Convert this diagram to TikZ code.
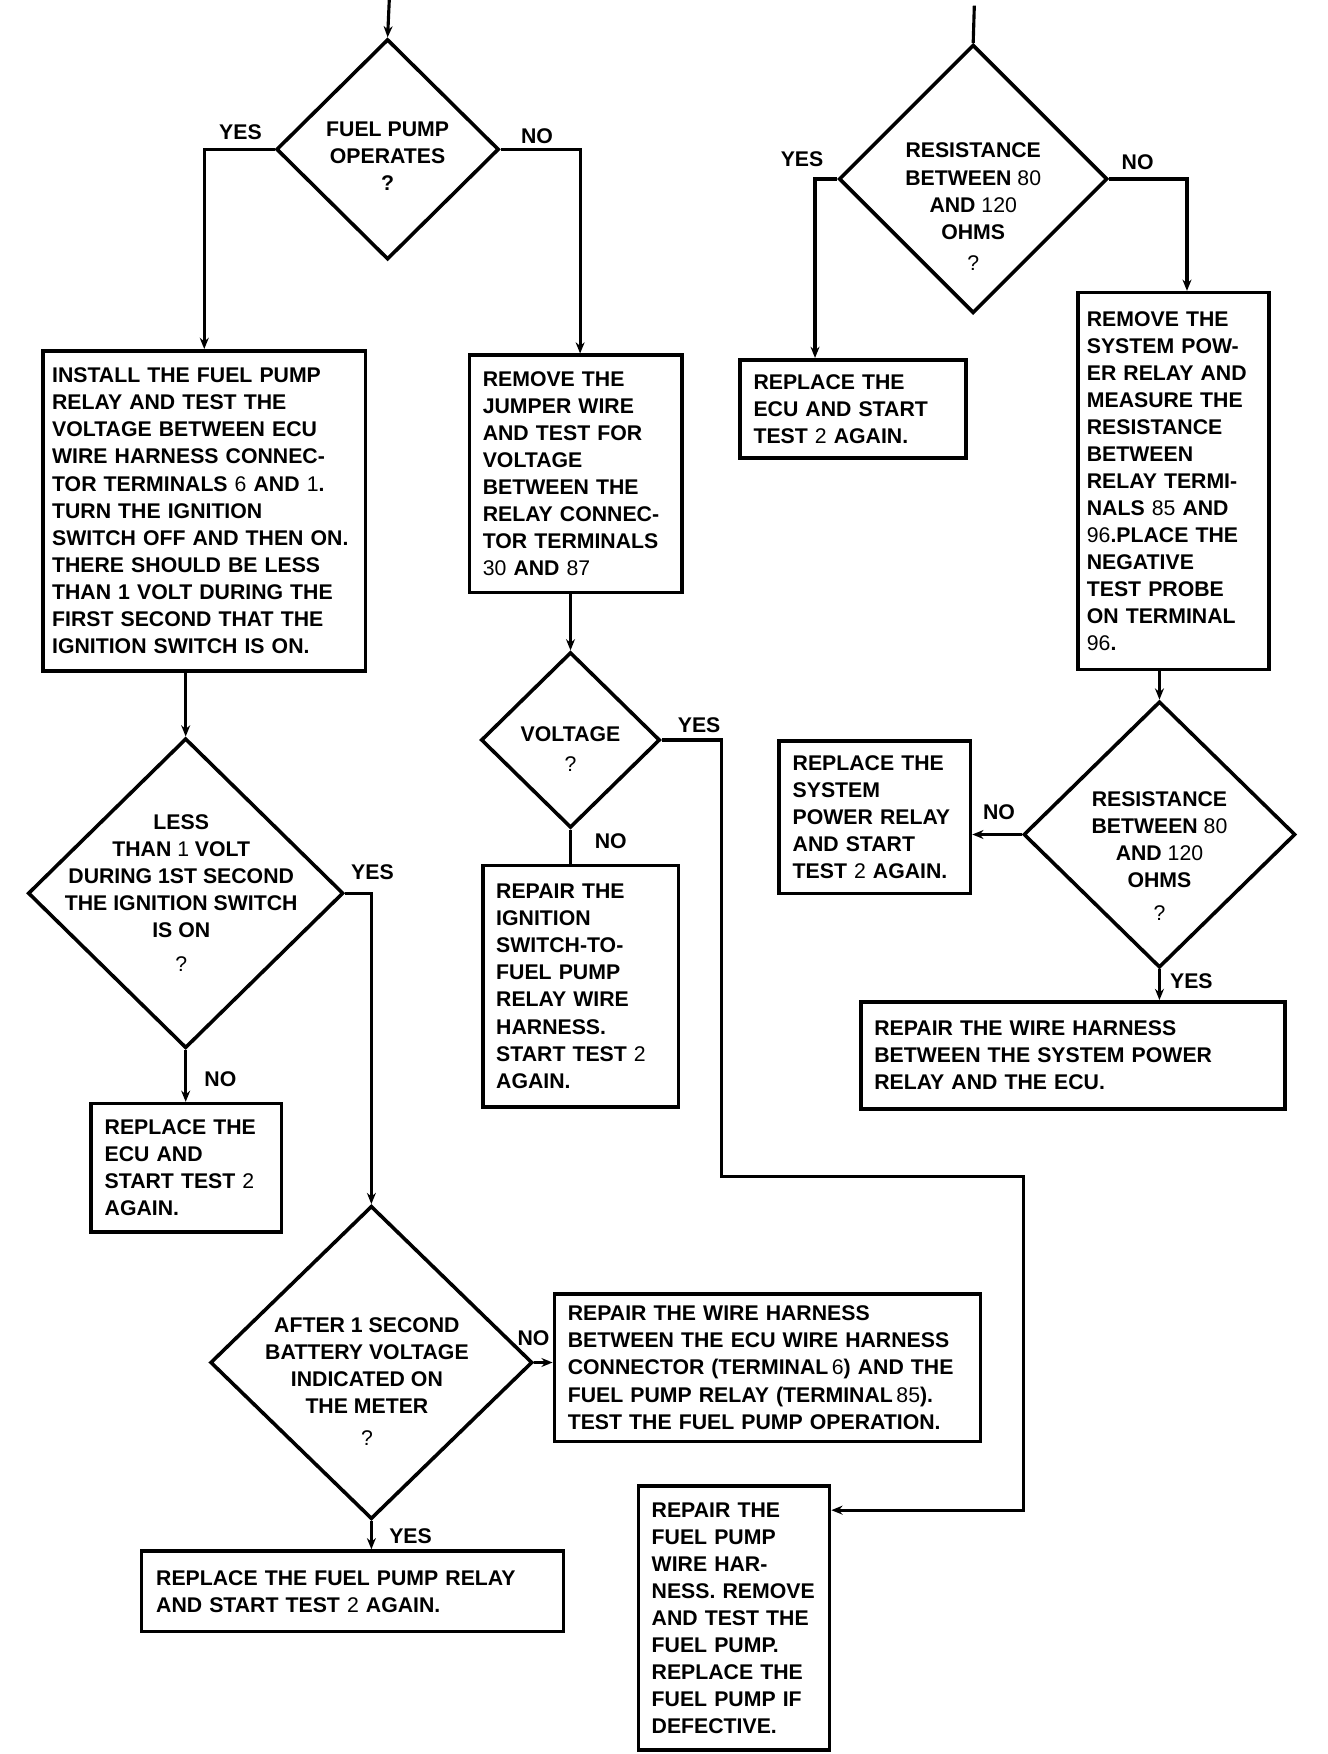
\documentclass[tikz,border=0pt]{standalone}
\usepackage{fontspec}
\setmainfont{Liberation Sans}
\usepackage{tikz}
\usetikzlibrary{arrows.meta,shapes.geometric}

\newcommand{\lite}[1]{{\mdseries #1}}

\begin{document}
\begin{tikzpicture}[x=1pt,y=-1pt,
    chartfont/.style={font=\fontsize{19}{24.2}\selectfont\bfseries},
    box/.style={draw, line width=3.2pt, anchor=north west, align=left,
      inner xsep=12pt, inner ysep=8pt, chartfont},
    decision/.style={draw, diamond, line width=3.2pt, inner sep=0pt},
    dtext/.style={align=center, inner sep=0pt, chartfont},
    lab/.style={inner sep=0pt, chartfont},
    arr/.style={line width=2.8pt, -{Stealth[length=10pt,width=8pt]}},
    flow/.style={line width=2.8pt}]

    \useasboundingbox (0,0) rectangle (1187,1568);

    % decisions
    \node[decision, minimum width=199pt, minimum height=197pt] (d1) at (346.5,133.5) {};
    \node[dtext, yshift=-6pt] (d1t) at (d1) {FUEL PUMP\\OPERATES\\?};

    \node[decision, minimum width=282pt, minimum height=277pt] (d2) at (166,798.5) {};
    \node[dtext, xshift=-4pt] (d2t) at (d2)
      {LESS\\THAN \lite{1} VOLT\\DURING 1ST SECOND\\THE IGNITION SWITCH\\IS ON\\[6pt]\lite{?}};

    \node[decision, minimum width=160pt, minimum height=157pt] (d3) at (510,661.5) {};
    \node[dtext, yshift=-8pt] (d3t) at (d3) {VOLTAGE\\[2pt]\lite{?}};

    \node[decision, minimum width=288pt, minimum height=280pt] (d4) at (332,1218) {};
    \node[dtext, yshift=-17pt, xshift=-4pt] (d4t) at (d4)
      {AFTER 1 SECOND\\BATTERY VOLTAGE\\INDICATED ON\\THE METER\\[4pt]\lite{?}};

    \node[decision, minimum width=240pt, minimum height=240pt] (d5) at (870,160) {};
    \node[dtext, yshift=-25pt] (d5t) at (d5)
      {RESISTANCE\\BETWEEN \lite{80}\\AND \lite{120}\\OHMS\\[4pt]\lite{?}};

    \node[decision, minimum width=243pt, minimum height=238pt] (d6) at (1036.5,746) {};
    \node[dtext, yshift=-19pt] (d6t) at (d6)
      {RESISTANCE\\BETWEEN \lite{80}\\AND \lite{120}\\OHMS\\[5pt]\lite{?}};

    % action boxes
    \node[box, text width=272pt, minimum height=286pt, inner xsep=8pt] (b1) at (37,312)
      {INSTALL THE FUEL PUMP\\RELAY AND TEST THE\\VOLTAGE BETWEEN ECU\\WIRE HARNESS CONNEC-\\TOR TERMINALS \lite{6} AND \lite{1}.\\TURN THE IGNITION\\SWITCH OFF AND THEN ON.\\THERE SHOULD BE LESS\\THAN 1 VOLT DURING THE\\FIRST SECOND THAT THE\\IGNITION SWITCH IS ON.};

    \node[box, text width=166pt, minimum height=212pt] (b2) at (418,316)
      {REMOVE THE\\JUMPER WIRE\\AND TEST FOR\\VOLTAGE\\BETWEEN THE\\RELAY CONNEC-\\TOR TERMINALS\\\lite{30} AND \lite{87}};

    \node[box, text width=146pt, minimum height=115pt] (b3) at (80,985)
      {REPLACE THE\\ECU AND\\START TEST \lite{2}\\AGAIN.};

    \node[box, text width=351pt, minimum height=72pt, inner xsep=13pt] (b4) at (125,1385)
      {REPLACE THE FUEL PUMP RELAY\\AND START TEST \lite{2} AGAIN.};

    \node[box, text width=151pt, minimum height=216pt] (b5) at (430,772)
      {REPAIR THE\\IGNITION\\SWITCH-TO-\\FUEL PUMP\\RELAY WIRE\\HARNESS.\\START TEST \lite{2}\\AGAIN.};

    \node[box, text width=357pt, minimum height=132pt] (b6) at (494,1155)
      {REPAIR THE WIRE HARNESS\\BETWEEN THE ECU WIRE HARNESS\\CONNECTOR (TERMINAL\,\lite{6}) AND THE\\FUEL PUMP RELAY (TERMINAL\,\lite{85}).\\TEST THE FUEL PUMP OPERATION.};

    \node[box, text width=147pt, minimum height=236pt] (b7) at (569,1327)
      {REPAIR THE\\FUEL PUMP\\WIRE HAR-\\NESS. REMOVE\\AND TEST THE\\FUEL PUMP.\\REPLACE THE\\FUEL PUMP IF\\DEFECTIVE.};

    \node[box, text width=178pt, minimum height=88pt] (b8) at (660,320)
      {REPLACE THE\\ECU AND START\\TEST \lite{2} AGAIN.};

    \node[box, text width=155pt, minimum height=337pt, inner xsep=8pt] (b9) at (962,260)
      {REMOVE THE\\SYSTEM POW-\\ER RELAY AND\\MEASURE THE\\RESISTANCE\\BETWEEN\\RELAY TERMI-\\NALS \lite{85} AND\\\lite{96}.PLACE THE\\NEGATIVE\\TEST PROBE\\ON TERMINAL\\\lite{96}.};

    \node[box, text width=147pt, minimum height=136pt] (b10) at (695,661)
      {REPLACE THE\\SYSTEM\\POWER RELAY\\AND START\\TEST \lite{2} AGAIN.};

    \node[box, text width=355pt, minimum height=96pt] (b11) at (768,894)
      {REPAIR THE WIRE HARNESS\\BETWEEN THE SYSTEM POWER\\RELAY AND THE ECU.};

    % yes / no labels
    \node[lab] (l1y) at (215,118) {YES};
    \node[lab] (l1n) at (480,122) {NO};
    \node[lab] (l2y) at (333,780) {YES};
    \node[lab] (l2n) at (197,965) {NO};
    \node[lab] (l3y) at (625,648) {YES};
    \node[lab] (l3n) at (546,752) {NO};
    \node[lab] (l4n) at (477,1196) {NO};
    \node[lab] (l4y) at (367,1373) {YES};
    \node[lab] (l5y) at (717,142) {YES};
    \node[lab] (l5n) at (1017,145) {NO};
    \node[lab] (l6n) at (893,726) {NO};
    \node[lab] (l6y) at (1065,877) {YES};

    % free ends and bends
    \coordinate (in1) at (348,0);
    \coordinate (in2) at (871,5);
    \coordinate (bend1) at (645,1052);
    \coordinate (bend2) at (915,1350);

    % connectors
    \draw[arr] (in1) -- (d1.north);
    \draw[arr] (d1.west) -| (b1.north);
    \draw[arr] (d1.east) -| ([xshift=4pt]b2.north);
    \draw[arr] (b1.south -| d2.north) -- (d2.north);
    \draw[arr] (d2.east) -| (d4.north);
    \draw[arr] (d2.south) -- (d2.south |- b3.north);
    \draw[arr] (d4.east) -- (d4.east -| b6.west);
    \draw[arr] (d4.south) -- (d4.south |- b4.north);
    \draw[arr] (b2.south -| d3.north) -- (d3.north);
    \draw[flow] (d3.south) -- (d3.south |- b5.north);
    \draw[arr] (d3.east) -| (bend1) -| (bend2) -- (bend2 -| b7.east);

    \draw[flow] (in2) -- (d5.north);
    \draw[arr] (d5.west) -| ([xshift=-34pt]b8.north);
    \draw[arr] (d5.east) -| ([xshift=12pt]b9.north);
    \draw[arr] (b9.south -| d6.north) -- (d6.north);
    \draw[arr] (d6.west) -- (d6.west -| b10.east);
    \draw[arr] (d6.south) -- (d6.south |- b11.north);
\end{tikzpicture}
\end{document}
